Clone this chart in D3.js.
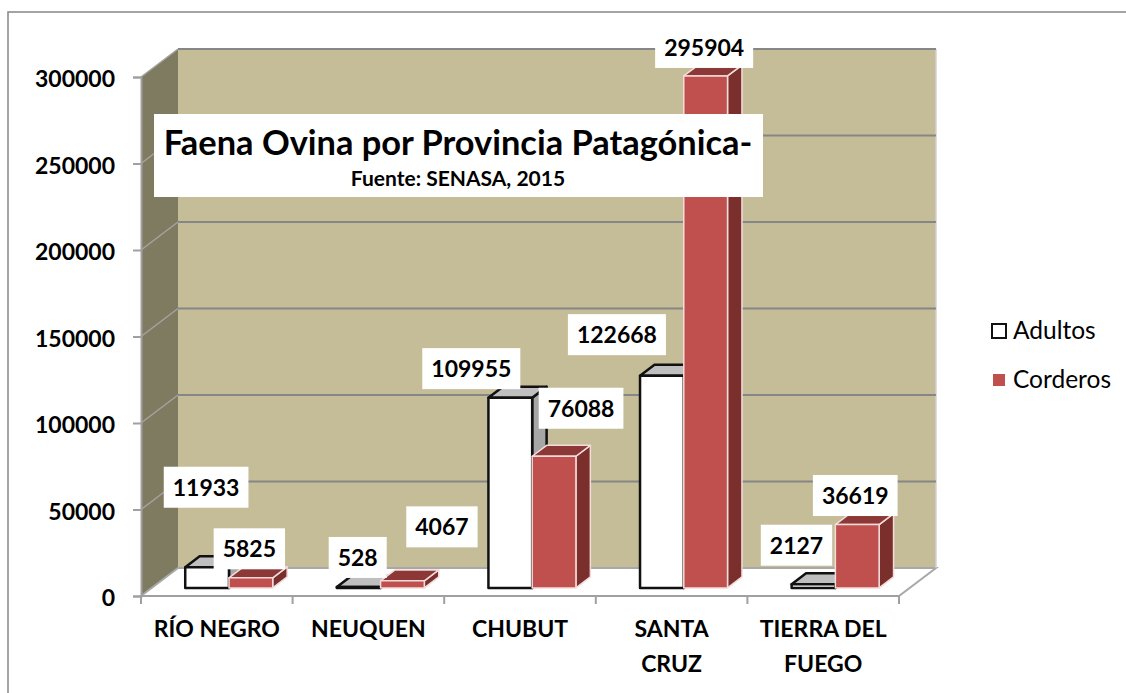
<!DOCTYPE html>
<html>
<head>
<meta charset="utf-8">
<script src="https://cdn.jsdelivr.net/npm/d3@7"></script>
<style>
  html, body { margin: 0; padding: 0; background: #fff; overflow: hidden; }
  text { font-family: Lato, "Noto Sans", sans-serif; fill: #000; }
</style>
</head>
<body>
<svg id="chart" width="1126" height="693"></svg>
<script>
const categories = ['RÍO NEGRO', 'NEUQUEN', 'CHUBUT', 'SANTA CRUZ', 'TIERRA DEL FUEGO'];
const categoryLines = [['RÍO NEGRO'], ['NEUQUEN'], ['CHUBUT'], ['SANTA', 'CRUZ'], ['TIERRA DEL', 'FUEGO']];
const seriesNames = ['Adultos', 'Corderos'];
const adultos = [11933, 528, 109955, 122668, 2127];
const corderos = [5825, 4067, 76088, 295904, 36619];
const yTicks = [0, 50000, 100000, 150000, 200000, 250000, 300000];

// hand placed labels in the original, center offset from top of bar front
const adultosLabelOffset = [[-1, -80], [-1, -29.5], [-39, -29], [-45, -41], [-17, -39]];
const corderosLabelOffset = [[-1.5, -29], [39.5, -54], [27, -48], [-1.5, -28.5], [-2, -29]];

const wallColor = '#c4bd97';
const sideWallColor = '#7f7b60';
const gridColor = '#868686';
const redFront = '#c0504d';
const redTop = '#8c3836';
const redSide = '#7b2f2d';

const svg = d3.select('#chart');

const x0 = d3.scaleBand().domain(categories).range([141, 899]);
const x1 = d3.scaleBand().domain(seriesNames).range([33.5, 121]);
const y = d3.scaleLinear().domain([0, 300000]).range([596, 77]);

// oblique projection of the 3d box, d = 0 front of floor, d = 1 back wall
const depthX = 37;
const depthY = -28;
const pt = (px, py, d) => [px + depthX * d, py + depthY * d];
const line = d3.line();
const closed = pts => line(pts) + 'Z';

// chart frame
svg.append('rect')
  .attr('x', 8).attr('y', 12)
  .attr('width', 1140).attr('height', 700)
  .attr('fill', '#fff')
  .attr('stroke', gridColor)
  .attr('stroke-width', 1.5);

const [xMin, xMax] = x0.range();

svg.append('path')
  .attr('d', closed([pt(xMin, y(300000), 1), pt(xMax, y(300000), 1), pt(xMax, y(0), 1), pt(xMin, y(0), 1)]))
  .attr('fill', wallColor);

svg.append('path')
  .attr('d', closed([pt(xMin, y(300000), 0), pt(xMin, y(300000), 1), pt(xMin, y(0), 1), pt(xMin, y(0), 0)]))
  .attr('fill', sideWallColor);

svg.append('path')
  .attr('d', closed([pt(xMin, y(0), 0), pt(xMax, y(0), 0), pt(xMax, y(0), 1), pt(xMin, y(0), 1)]))
  .attr('fill', '#fff')
  .attr('stroke', '#a8a8a8')
  .attr('stroke-width', 2);

// right edge of back wall
svg.append('path')
  .attr('d', line([pt(xMax, y(300000), 1), pt(xMax, y(0), 1)]))
  .attr('stroke', '#d0d0d0')
  .attr('stroke-width', 1.5)
  .attr('fill', 'none');

// gridlines on both walls
const $grid = svg.append('g');
$grid.selectAll('path.back')
  .data(yTicks.slice(1))
  .join('path')
  .attr('class', 'back')
  .attr('d', v => line([pt(xMin, y(v), 1), pt(xMax, y(v), 1)]))
  .attr('stroke', gridColor)
  .attr('stroke-width', 2)
  .attr('fill', 'none');
$grid.selectAll('path.side')
  .data(yTicks.slice(1))
  .join('path')
  .attr('class', 'side')
  .attr('d', v => line([pt(xMin, y(v), 0), pt(xMin, y(v), 1)]))
  .attr('stroke', '#a3a3a3')
  .attr('stroke-width', 1.5)
  .attr('fill', 'none');

// y axis
const $yAxis = svg.append('g')
  .attr('transform', `translate(${xMin},0)`)
  .call(d3.axisLeft(y).tickValues(yTicks).tickFormat(d3.format('d')).tickSize(8).tickPadding(18));
$yAxis.selectAll('path, line').attr('stroke', '#a0a0a0').attr('stroke-width', 2);
$yAxis.selectAll('text')
  .attr('font-size', 23)
  .attr('font-weight', 700)
  .attr('fill', '#000')
  .attr('dy', '0.42em')
  .style('font-family', 'Lato, "Noto Sans", sans-serif');

// x axis, ticks between the categories
const xTickPositions = categories.map(c => x0(c)).concat(xMax);
svg.append('path')
  .attr('d', line([[xMin, y(0)], [xMax, y(0)]]))
  .attr('stroke', '#a0a0a0')
  .attr('stroke-width', 2);
svg.selectAll('line.x-tick')
  .data(xTickPositions)
  .join('line')
  .attr('class', 'x-tick')
  .attr('x1', d => d).attr('x2', d => d)
  .attr('y1', y(0)).attr('y2', y(0) + 8)
  .attr('stroke', '#a0a0a0')
  .attr('stroke-width', 2);

svg.selectAll('text.cat')
  .data(categories)
  .join('text')
  .attr('class', 'cat')
  .attr('text-anchor', 'middle')
  .attr('font-size', 23)
  .attr('font-weight', 700)
  .each(function(c, i) {
    d3.select(this).selectAll('tspan')
      .data(categoryLines[i])
      .join('tspan')
      .attr('x', x0(c) + x0.bandwidth() / 2)
      .attr('y', (_, j) => 637 + j * 35)
      .text(d => d);
  });

// bars, front of the bar sits a bit inside the floor
const barD0 = 0.29;
const barD1 = 0.68;

const styles = {
  Adultos: { front: '#fff', top: '#bfbfbf', side: '#a6a6a6', stroke: '#111', strokeWidth: 2.5 },
  Corderos: { front: redFront, top: redTop, side: redSide, stroke: '#f2dcdb', strokeWidth: 1.5 }
};

const bars = [];
categories.forEach((c, i) => {
  bars.push({ cat: c, name: 'Adultos', value: adultos[i], offset: adultosLabelOffset[i] });
  bars.push({ cat: c, name: 'Corderos', value: corderos[i], offset: corderosLabelOffset[i] });
});

const $bars = svg.selectAll('g.bar')
  .data(bars)
  .join('g')
  .attr('class', 'bar')
  .attr('stroke-linejoin', 'round');

$bars.each(function(d) {
  const left = x0(d.cat) + x1(d.name);
  const right = left + x1.bandwidth();
  const top = y(d.value);
  const base = y(0);
  const s = styles[d.name];
  const $g = d3.select(this);
  const faces = [
    [s.side, [pt(right, base, barD0), pt(right, base, barD1), pt(right, top, barD1), pt(right, top, barD0)]],
    [s.top, [pt(left, top, barD0), pt(right, top, barD0), pt(right, top, barD1), pt(left, top, barD1)]],
    [s.front, [pt(left, base, barD0), pt(right, base, barD0), pt(right, top, barD0), pt(left, top, barD0)]]
  ];
  faces.forEach(([fill, pts]) => {
    $g.append('path')
      .attr('d', closed(pts))
      .attr('fill', fill)
      .attr('stroke', s.stroke)
      .attr('stroke-width', s.strokeWidth);
  });
});

// value labels on white boxes
const $labels = svg.selectAll('g.value')
  .data(bars)
  .join('g')
  .attr('class', 'value')
  .attr('transform', d => {
    const [cx, cy] = pt(x0(d.cat) + x1(d.name) + x1.bandwidth() / 2, y(d.value), barD0);
    return `translate(${cx + d.offset[0]},${cy + d.offset[1]})`;
  });
$labels.append('text')
  .attr('text-anchor', 'middle')
  .attr('y', 8.5)
  .attr('font-size', 23)
  .attr('font-weight', 700)
  .text(d => d.value);
$labels.insert('rect', 'text')
  .attr('fill', '#fff')
  .attr('x', function() {
    return -this.parentNode.querySelector('text').getComputedTextLength() / 2 - 9;
  })
  .attr('width', function() {
    return this.parentNode.querySelector('text').getComputedTextLength() + 18;
  })
  .attr('y', -20.5)
  .attr('height', 41);

// title box
const $title = svg.append('g');
$title.append('rect')
  .attr('x', 154).attr('y', 114)
  .attr('width', 609).attr('height', 83)
  .attr('fill', '#fff');
$title.append('text')
  .attr('x', 458).attr('y', 155)
  .attr('text-anchor', 'middle')
  .attr('font-size', 34.4)
  .attr('font-weight', 700)
  .text('Faena Ovina por Provincia Patagónica-');
$title.append('text')
  .attr('x', 458).attr('y', 186)
  .attr('text-anchor', 'middle')
  .attr('font-size', 21)
  .attr('font-weight', 700)
  .text('Fuente: SENASA, 2015');

// legend
const $legend = svg.selectAll('g.legend')
  .data(seriesNames)
  .join('g')
  .attr('class', 'legend')
  .attr('transform', (_, i) => `translate(0,${331 + i * 49})`);
$legend.append('rect')
  .attr('x', (_, i) => (i ? 993 : 992))
  .attr('y', (_, i) => (i ? -6 : -7))
  .attr('width', (_, i) => (i ? 12 : 14))
  .attr('height', (_, i) => (i ? 12 : 14))
  .attr('fill', d => styles[d].front)
  .attr('stroke', (_, i) => (i ? 'none' : '#111'))
  .attr('stroke-width', 2);
$legend.append('text')
  .attr('x', 1013)
  .attr('y', 8)
  .attr('font-size', 24.5)
  .text(d => d);
</script>
</body>
</html>
